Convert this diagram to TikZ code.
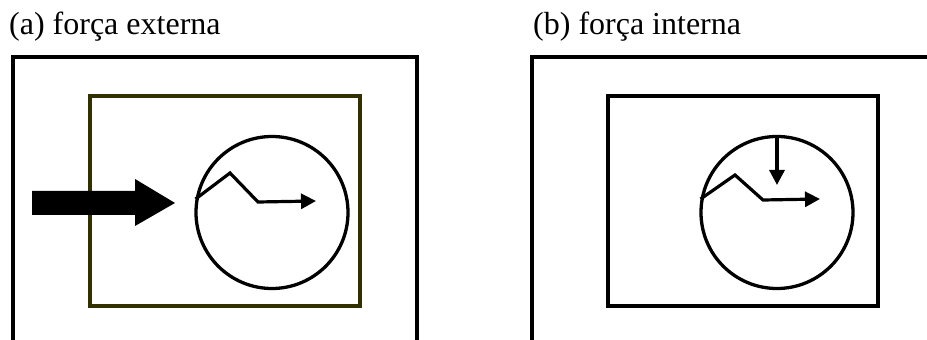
\documentclass[tikz,border=0pt]{standalone}
\usepackage{fontspec}
\setmainfont{Liberation Serif}
\usetikzlibrary{arrows.meta}
\definecolor{frameolive}{RGB}{51,48,0}

\begin{document}
\begin{tikzpicture}[x=1pt, y=1pt,
    wall/.style={line width=3.8pt, line join=miter},
    cell/.style={circle, draw, line width=3.3pt, minimum size=152pt, inner sep=0pt},
    box/.style={draw, line width=3.3pt, minimum width=270pt, minimum height=210pt, inner sep=0pt},
    force/.style={line width=3.2pt, -{Triangle[length=15pt, width=15pt]}},
    title/.style={font=\fontsize{32}{36}\selectfont, anchor=base west, inner sep=0pt}]
                \useasboundingbox (0,0) rectangle (927,340);

                % Titles
                \node[title] (titleA) at (9,305) {(a) força externa};
                \node[title] (titleB) at (533,305) {(b) força interna};

                % Outer frames (open at the bottom and right)
                \draw[wall] (13,0) -- (13,283) -- (417,283) -- (417,0);
                \draw[wall] (532,0) -- (532,283) -- (927,283);

                % Inner boxes
                \node[box, draw=frameolive] (boxA) at (225,139) {};
                \node[box] (boxB) at (743,139) {};

                % Circles
                \node[cell] (cellA) at (272,127.5) {};
                \node[cell] (cellB) at (777,127.5) {};

                % External push
                \fill (32,125) -- (135,125) -- (135,114) -- (175,137) -- (135,161)
                    -- (135,149) -- (32,149) -- cycle;

                % Zigzag paths with arrows
                \coordinate (kinkA1) at (230,167);
                \coordinate (kinkA2) at (258,138);
                \coordinate (tipA) at (316,139);
                \draw[force, line join=miter] (cellA.170) -- (kinkA1) -- (kinkA2) -- (tipA);

                \coordinate (kinkB1) at (735,165);
                \coordinate (kinkB2) at (763,140);
                \coordinate (tipB) at (820,141);
                \draw[force, line join=miter] (cellB.170) -- (kinkB1) -- (kinkB2) -- (tipB);

                % Internal push
                \coordinate (tipDown) at (cellB.north |- 0,155);
                \draw[force] (cellB.north) -- (tipDown);
            \end{tikzpicture}
\end{document}
